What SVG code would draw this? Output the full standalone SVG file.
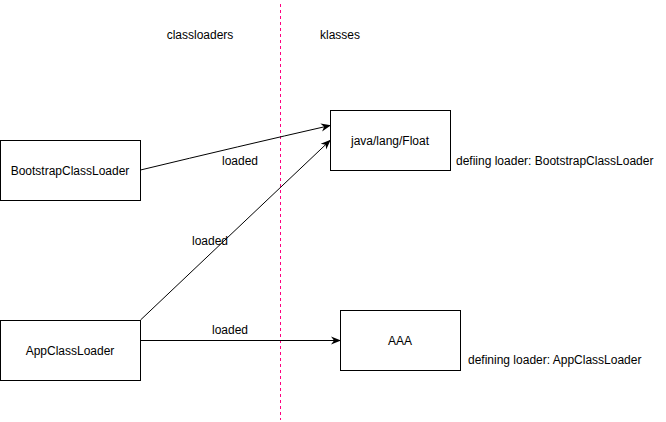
<svg xmlns="http://www.w3.org/2000/svg" width="666" height="422" viewBox="0 0 666 422">
<style>
text{font-family:"Liberation Sans",Arial,Helvetica,sans-serif;font-size:12px;fill:#000}
.box{fill:#fff;stroke:#000;stroke-width:1}
.c{text-anchor:middle}
.edge{fill:none;stroke:#000;stroke-width:1}
</style>
<defs>
<marker id="arr" viewBox="0 0 10 10" refX="9" refY="5" markerWidth="10" markerHeight="10" markerUnits="userSpaceOnUse" orient="auto">
<path d="M0,1 L10,5 L0,9 L3,5 Z" fill="#000"/>
</marker>
</defs>
<rect width="666" height="422" fill="#fff"/>
<line x1="280.5" y1="4" x2="280.5" y2="420" stroke="#FF0080" stroke-width="1" stroke-dasharray="3,3"/>
<text class="c" x="200" y="39">classloaders</text>
<text class="c" x="340" y="39">klasses</text>
<g id="edges">
<path class="edge" d="M140.5,170 Q240,146 330,125.5" marker-end="url(#arr)"/>
<path class="edge" d="M140.5,320 L330,140.5" stroke-width="0.8" marker-end="url(#arr)"/>
<path class="edge" d="M140.5,340.5 L340,340.5" marker-end="url(#arr)"/>
<text class="c" x="240" y="165">loaded</text>
<text class="c" x="210" y="245">loaded</text>
<text class="c" x="230" y="334">loaded</text>
</g>
<g id="bootstrap">
<rect class="box" x="0.5" y="140.5" width="140" height="60"/>
<text class="c" x="70" y="175">BootstrapClassLoader</text>
</g>
<g id="app">
<rect class="box" x="0.5" y="320.5" width="140" height="60"/>
<text class="c" x="70" y="355">AppClassLoader</text>
</g>
<g id="float">
<rect class="box" x="330.5" y="110.5" width="120" height="60"/>
<text class="c" x="390" y="145">java/lang/Float</text>
</g>
<g id="aaa">
<rect class="box" x="340.5" y="310.5" width="120" height="60"/>
<text class="c" x="400" y="345">AAA</text>
</g>
<text x="456" y="165">defiing loader: BootstrapClassLoader</text>
<text x="468" y="364">defining loader: AppClassLoader</text>
</svg>
